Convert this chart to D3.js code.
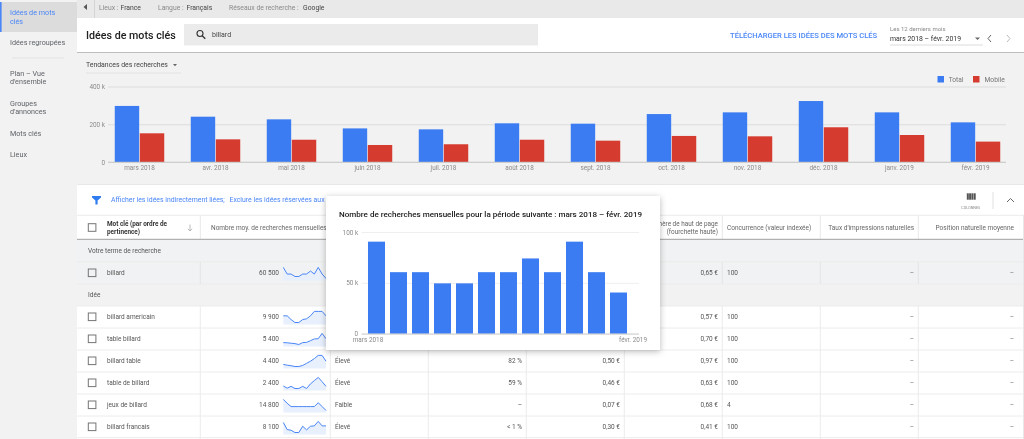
<!DOCTYPE html>
<html>
<head>
<meta charset="utf-8">
<script src="https://d3js.org/d3.v7.min.js"></script>
<style>
html, body { margin: 0; padding: 0; background: #fff; overflow: hidden; }
svg { display: block; filter: blur(0.45px); }
text { font-family: Roboto, sans-serif; }
.axis path { display: none; }
</style>
</head>
<body>
<svg id="canvas" width="1024" height="439"></svg>
<script>
// monthly trend, top chart
var months = ['mars 2018', 'avr. 2018', 'mai 2018', 'juin 2018', 'juil. 2018', 'août 2018', 'sept. 2018', 'oct. 2018', 'nov. 2018', 'déc. 2018', 'janv. 2019', 'févr. 2019'];
var totalValues = [297000, 240000, 226000, 178000, 173000, 205000, 203000, 254000, 263000, 323000, 263000, 210000];
var mobileValues = [152000, 120000, 118000, 90000, 94000, 118000, 113000, 138000, 136000, 184000, 143000, 108000];
var trendTicks = [0, 200000, 400000];

// popup chart
var popupValues = [90500, 60500, 60500, 49500, 49500, 60500, 60500, 74000, 60500, 90500, 60500, 40500];
var popupTicks = [0, 50000, 100000];

// table
var keywords = ['billard', 'billard americain', 'table billard', 'billard table', 'table de billard', 'jeux de billard', 'billard francais'];
var volumes = ['60 500', '9 900', '5 400', '4 400', '2 400', '14 800', '8 100'];
var competition = ['', '', '', 'Élevé', 'Élevé', 'Faible', 'Élevé'];
var impressionShare = ['', '', '', '82 %', '59 %', '–', '< 1 %'];
var bidLow = ['', '', '', '0,50 €', '0,46 €', '0,07 €', '0,30 €'];
var bidHigh = ['0,65 €', '0,57 €', '0,70 €', '0,97 €', '0,63 €', '0,68 €', '0,41 €'];
var competitionIndex = ['100', '100', '100', '100', '100', '4', '100'];
var sparkBillard = popupValues;
var sparkAmericain = [8100, 8100, 6600, 5400, 5400, 6600, 6900, 8100, 9900, 9900, 9900, 8100];
var sparkTable = [3800, 3700, 3500, 3300, 2900, 3800, 3900, 4700, 5500, 5600, 8100, 5600];
var sparkBillardTable = [3200, 2900, 2700, 2400, 2400, 2800, 3600, 4400, 5400, 6600, 6600, 4400];
var sparkTableDe = [2000, 1400, 1900, 1300, 1300, 1900, 1300, 2600, 3500, 4400, 3200, 1900];
var sparkJeux = [27100, 20400, 14800, 14800, 14800, 14800, 14800, 14800, 14800, 21500, 14800, 8100];
var sparkFrancais = [13900, 7900, 7300, 5400, 5400, 10700, 7600, 10700, 11000, 14800, 11000, 11000];
var sparks = [sparkBillard, sparkAmericain, sparkTable, sparkBillardTable, sparkTableDe, sparkJeux, sparkFrancais];

var sideItems = [
  [['Idées de mots', 'clés'], 12.5],
  [['Idées regroupées'], 42.5],
  [['Plan – Vue', "d'ensemble"], 73],
  [['Groupes', "d'annonces"], 103],
  [['Mots clés'], 133],
  [['Lieux'], 154.5]
];

var BLUE = '#3b7cf2', RED = '#d63b2f', LINK = '#4a86f7', GREY = '#757575';
var svg = d3.select('#canvas');

var rect = function (x, y, w, h, fill) {
  return svg.append('rect').attr('x', x).attr('y', y).attr('width', w).attr('height', h).attr('fill', fill);
};
var line = function (x1, y1, x2, y2, color, w) {
  return svg.append('line').attr('x1', x1).attr('y1', y1).attr('x2', x2).attr('y2', y2)
    .attr('stroke', color).attr('stroke-width', w || 1);
};
var label = function (str, x, y, size, color, anchor, weight) {
  return svg.append('text').attr('x', x).attr('y', y).attr('dy', '0.35em')
    .attr('font-size', size).attr('fill', color)
    .attr('text-anchor', anchor || 'start').attr('font-weight', weight || 400)
    .text(str);
};

// backgrounds
rect(0, 0, 1024, 439, '#fff');
rect(0, 0, 77, 439, '#f2f2f2');
rect(77, 0, 947, 18, '#e9e9e9');
rect(77, 53, 947, 132, '#f2f2f2');
line(77, 52.5, 1024, 52.5, '#bdbdbd', 1.2);
line(77, 184.5, 1024, 184.5, '#e8e8e8');

// sidebar
rect(0, 2, 77, 30, '#dcdcdc');
rect(0, 2, 1.6, 30, '#4a86f7');
sideItems.forEach(function (item, i) {
  item[0].forEach(function (s, j) {
    label(s, 10, item[1] + j * 8.6, 7.2, i == 0 ? LINK : '#5f6368');
  });
});
line(12, 58, 64, 58, '#e2e2e2');

// top strip
svg.append('path').attr('d', 'M83.5 7 L87 4 L87 10 Z').attr('fill', '#555');
line(94.5, 0, 94.5, 18, '#d4d4d4');
label('Lieux :', 99, 7.5, 6.8, '#8a8a8a');
label('France', 120.5, 7.5, 6.8, '#444');
label('Langue :', 158, 7.5, 6.8, '#8a8a8a');
label('Français', 186.5, 7.5, 6.8, '#444');
label('Réseaux de recherche :', 229, 7.5, 6.8, '#8a8a8a');
label('Google', 303, 7.5, 6.8, '#444');

// title row
label('Idées de mots clés', 86, 35, 10.7, '#212121', 'start', 500);
rect(184, 24, 354, 21.5, '#ebebeb');
svg.append('circle').attr('cx', 200).attr('cy', 33.5).attr('r', 3).attr('fill', 'none').attr('stroke', '#333').attr('stroke-width', 1.1);
line(202.2, 35.7, 205.3, 38.8, '#333', 1.3);
label('billard', 212, 35, 7, '#444');
label('TÉLÉCHARGER LES IDÉES DES MOTS CLÉS', 730, 35, 7.6, LINK, 'start', 500);
label('Les 12 derniers mois', 890, 28.5, 6, '#8a8a8a');
label('mars 2018 – févr. 2019', 890, 39, 6.9, '#333');
svg.append('path').attr('d', 'M975 37.5 L980 37.5 L977.5 40 Z').attr('fill', '#666');
line(890, 45, 983, 45, '#dcdcdc');
svg.append('path').attr('d', 'M991 35 L988 38.5 L991 42').attr('fill', 'none').attr('stroke', '#666');
svg.append('path').attr('d', 'M1007 35 L1010 38.5 L1007 42').attr('fill', 'none').attr('stroke', '#bbb');

// trend chart header
label('Tendances des recherches', 86, 64.5, 6.9, '#444');
svg.append('path').attr('d', 'M173 64 L177 64 L175 66.2 Z').attr('fill', '#666');
line(86, 73, 181, 73, '#e2e2e2');
rect(937.5, 76, 6.5, 6.5, BLUE);
label('Total', 948.7, 79.8, 6.6, GREY);
rect(973, 76, 6.5, 6.5, RED);
label('Mobile', 984.5, 79.8, 6.7, GREY);

// trend chart
var yTrend = d3.scaleLinear().domain([0, 400000]).range([162, 86.5]);
var xTrend = d3.scaleBand().domain(months).range([101.5, 1013.5]).paddingInner(0.349).paddingOuter(0.1745);
var seriesNames = ['total', 'mobile'];
var xSeries = d3.scaleBand().domain(seriesNames).range([0, xTrend.bandwidth()]).paddingInner(0.026);

svg.append('g').attr('class', 'axis').attr('transform', 'translate(108,0)')
  .call(d3.axisLeft(yTrend).tickValues(trendTicks).tickSize(-898).tickPadding(3)
    .tickFormat(function (d) { return d == 0 ? '0' : d / 1000 + ' k'; }))
  .call(function (g) {
    g.selectAll('line').attr('stroke', '#dcdcdc');
    g.selectAll('text').attr('font-size', 6.4).attr('fill', '#8a8a8a');
  });

var drawSeries = function (values, name, color) {
  svg.append('g').selectAll('rect').data(values).enter().append('rect')
    .attr('x', function (d, i) { return xTrend(months[i]) + xSeries(name); })
    .attr('width', xSeries.bandwidth())
    .attr('y', function (d) { return yTrend(d); })
    .attr('height', function (d) { return yTrend(0) - yTrend(d); })
    .attr('fill', color);
};
drawSeries(totalValues, 'total', BLUE);
drawSeries(mobileValues, 'mobile', RED);
line(108, 162.2, 1006, 162.2, '#c4c4c4', 0.8);

svg.append('g').attr('class', 'axis').attr('transform', 'translate(0,162)')
  .call(d3.axisBottom(xTrend).tickSize(0).tickPadding(3.5))
  .call(function (g) {
    g.selectAll('text').attr('font-size', 6.4).attr('fill', '#8a8a8a');
  });

// filter row
svg.append('path').attr('d', 'M92 196 L101 196 L101 197.5 L97.6 200.5 L97.6 204.6 L95.4 204.6 L95.4 200.5 L92 197.5 Z').attr('fill', '#2f7cf0');
label('Afficher les idées indirectement liées;', 111, 200, 6.9, LINK);
label('Exclure les idées réservées aux annonces', 229.5, 200, 6.9, LINK);
d3.range(4).forEach(function (i) { rect(966.8 + i * 2.3, 193.3, 2, 6.4, '#555'); });
label('COLONNES', 970.8, 207.8, 3.7, '#888', 'middle');
line(993, 192, 993, 209, '#e0e0e0');
svg.append('path').attr('d', 'M1007 202 L1010.5 198.5 L1014 202').attr('fill', 'none').attr('stroke', '#666');

// table
var colLines = [200.3, 330.3, 428.3, 526.3, 624.3, 722.3, 820.3, 918.3];
var rowCenters = [273, 317, 339, 361, 383, 405, 427];

rect(77, 240, 947, 44, '#f1f2f3');
rect(77, 284, 947, 22, '#f2f2f2');
[261.8, 284, 306, 328, 350, 372, 394, 416, 437.7].forEach(function (y) {
  line(77, y, 1024, y, '#ececec');
});
colLines.forEach(function (x) {
  line(x, 215.5, x, 239, '#e8e8e8');
  line(x, 262, x, 284, '#e4e4e4');
  line(x, 306, x, 439, '#ececec');
});
line(77, 215.3, 1024, 215.3, '#ececec');
line(77, 239.3, 1024, 239.3, '#9e9e9e', 1);
line(1023.5, 215, 1023.5, 439, '#e8e8e8');

var checkbox = function (cy) {
  svg.append('rect').attr('x', 88.3).attr('y', cy - 4).attr('width', 7.6).attr('height', 7.6)
    .attr('fill', 'none').attr('stroke', '#757575').attr('stroke-width', 1);
};

// table header
checkbox(227.7);
label('Mot clé (par ordre de', 107, 224, 6.4, '#333', 'start', 700);
label('pertinence)', 107, 231.5, 6.4, '#333', 'start', 700);
svg.append('path').attr('d', 'M190 224.5 L190 231 M187.8 228.8 L190 231 L192.2 228.8').attr('fill', 'none').attr('stroke', '#aaa').attr('stroke-width', 0.8);
label('Nombre moy. de recherches mensuelles', 211, 227.5, 6.5, '#666');
label('Enchère de haut de page', 718, 224, 6.4, '#666', 'end');
label('(fourchette haute)', 718, 231.5, 6.4, '#666', 'end');
label('Concurrence (valeur indexée)', 727, 227.5, 6.5, '#666');
label("Taux d'impressions naturelles", 914, 227.5, 6.5, '#666', 'end');
label('Position naturelle moyenne', 1014, 227.5, 6.5, '#666', 'end');

label('Votre terme de recherche', 88, 251, 6.5, '#555');
label('Idée', 88, 295, 6.5, '#555');

// rows
keywords.forEach(function (k, i) {
  var cy = rowCenters[i];
  checkbox(cy);
  label(k, 107, cy, 6.5, '#555');
  label(volumes[i], 279, cy, 6.5, '#555', 'end');
  label(competition[i], 335, cy, 6.5, '#555');
  label(impressionShare[i], 522, cy, 6.5, '#555', 'end');
  label(bidLow[i], 620, cy, 6.5, '#555', 'end');
  label(bidHigh[i], 718, cy, 6.5, '#555', 'end');
  label(competitionIndex[i], 727, cy, 6.5, '#555');
  label('–', 914, cy, 6.5, '#777', 'end');
  label('–', 1014, cy, 6.5, '#777', 'end');

  var xSpark = d3.scaleLinear().domain([0, 11]).range([283.3, 326]);
  var ySpark = d3.scaleLinear().domain(d3.extent(sparks[i])).range([cy + 5.5, cy - 5.6]);
  var area = d3.area().x(function (d, j) { return xSpark(j); }).y0(cy + 7.5).y1(function (d) { return ySpark(d); });
  var sparkLine = d3.line().x(function (d, j) { return xSpark(j); }).y(function (d) { return ySpark(d); });
  svg.append('path').datum(sparks[i]).attr('d', area).attr('fill', '#e8f0fe');
  svg.append('path').datum(sparks[i]).attr('d', sparkLine).attr('fill', 'none').attr('stroke', '#4a86f7').attr('stroke-width', 1);
});

// popup
var defs = svg.append('defs');
var shadow = defs.append('filter').attr('id', 'shadow').attr('x', '-10%').attr('y', '-10%').attr('width', '120%').attr('height', '125%');
shadow.append('feDropShadow').attr('dx', 0).attr('dy', 1.5).attr('stdDeviation', 3).attr('flood-color', '#000').attr('flood-opacity', 0.28);
rect(326, 196, 334, 154, '#fff').attr('filter', 'url(#shadow)');
label('Nombre de recherches mensuelles pour la période suivante : mars 2018 – févr. 2019', 339, 214.3, 8.05, '#212121', 'start', 500);

var yPopup = d3.scaleLinear().domain([0, 100000]).range([333.7, 232]);
var xPopup = d3.scaleBand().domain(months).range([365.5, 629.5]).paddingInner(0.227).paddingOuter(0.1135);

svg.append('g').attr('class', 'axis').attr('transform', 'translate(361.7,0)')
  .call(d3.axisLeft(yPopup).tickValues(popupTicks).tickSize(-277.3).tickPadding(3.5)
    .tickFormat(function (d) { return d == 0 ? '0' : d / 1000 + ' k'; }))
  .call(function (g) {
    g.selectAll('line').attr('stroke', '#efefef');
    g.selectAll('text').attr('font-size', 6.4).attr('fill', '#8a8a8a');
  });

svg.append('g').selectAll('rect').data(popupValues).enter().append('rect')
  .attr('x', function (d, i) { return xPopup(months[i]); })
  .attr('width', xPopup.bandwidth())
  .attr('y', function (d) { return yPopup(d); })
  .attr('height', function (d) { return yPopup(0) - yPopup(d); })
  .attr('fill', BLUE);
line(361.7, 334, 639, 334, '#c4c4c4', 0.8);
label(months[0], 368, 340, 6.4, '#8a8a8a', 'middle');
label(months[11], 633, 340, 6.4, '#8a8a8a', 'middle');
</script>
</body>
</html>
